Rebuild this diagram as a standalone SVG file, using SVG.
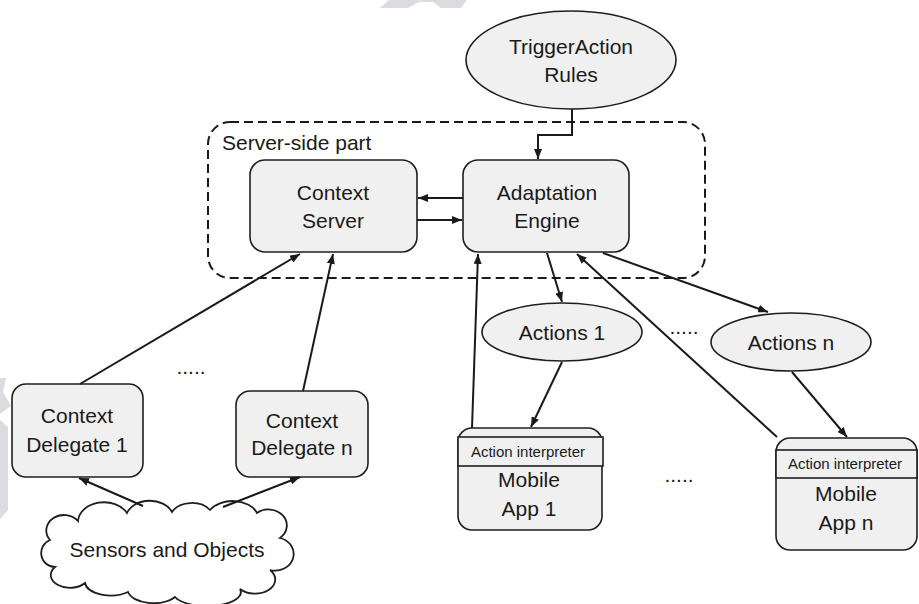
<svg xmlns="http://www.w3.org/2000/svg" width="919" height="604" viewBox="0 0 919 604">
  <style>
    .box { fill: #f0f0f0; stroke: #1e1e1e; stroke-width: 1.6; }
    .cloud { fill: #ffffff; stroke: #1e1e1e; stroke-width: 1.8; }
    .lbl { font-family: "Liberation Sans", Arial, sans-serif; font-size: 21px; fill: #1a1a1a; text-anchor: middle; }
    .small { font-size: 15px; }
    .edge { fill: none; stroke: #1a1a1a; stroke-width: 2; }
    .mark { fill: #dcdce0; }
  </style>
  <defs>
    <marker id="arrow" viewBox="0 0 10 8" refX="10" refY="4" markerWidth="10" markerHeight="8" markerUnits="userSpaceOnUse" orient="auto">
      <path d="M0,0 L10,4 L0,8 Z" fill="#1a1a1a"/>
    </marker>
  </defs>

  <rect width="919" height="604" fill="#ffffff"/>

  <!-- faint background marks -->
  <g id="marks">
    <polygon class="mark" points="380,8 389,0 467,0 461,8 441,8 433,2 419,2 408,8"/>
    <polygon class="mark" points="0,378 6,378 3,392 11,406 0,414"/>
    <polygon class="mark" points="0,420 8,427 8,510 0,519"/>
  </g>

  <!-- server-side container -->
  <g id="server-side">
    <rect x="208" y="122" width="497" height="156" rx="22" fill="none" stroke="#1a1a1a" stroke-width="2" stroke-dasharray="9 5"/>
    <text class="lbl" x="222" y="150" style="text-anchor:start">Server-side part</text>
  </g>

  <g id="trigger-rules">
    <ellipse class="box" cx="571" cy="60" rx="105" ry="49"/>
    <text class="lbl" x="571" y="54">TriggerAction</text>
    <text class="lbl" x="571" y="82">Rules</text>
  </g>

  <g id="context-server">
    <rect class="box" x="250" y="160" width="167" height="92" rx="15"/>
    <text class="lbl" x="333" y="200">Context</text>
    <text class="lbl" x="333" y="228">Server</text>
  </g>

  <g id="adaptation-engine">
    <rect class="box" x="463" y="160" width="166" height="92" rx="15"/>
    <text class="lbl" x="547" y="200">Adaptation</text>
    <text class="lbl" x="547" y="228">Engine</text>
  </g>

  <g id="context-delegate-1">
    <rect class="box" x="12" y="384" width="131" height="93" rx="14"/>
    <text class="lbl" x="77" y="423">Context</text>
    <text class="lbl" x="77" y="452">Delegate 1</text>
  </g>

  <g id="context-delegate-n">
    <rect class="box" x="236" y="391" width="132" height="86" rx="14"/>
    <text class="lbl" x="302" y="428">Context</text>
    <text class="lbl" x="302" y="455">Delegate n</text>
  </g>

  <g id="sensors-objects">
    <path class="cloud" d="M78,521 A26,20 0 0 1 127,513 A24,18 0 0 1 172,512 A22,16 0 0 1 210,510 A26,18 0 0 1 257,513 A16,14 0 0 1 280,538 A18,16 0 0 1 270,570 A20,14 0 0 1 240,589 A34,14 0 0 1 175,597 A26,14 0 0 1 128,592 A26,14 0 0 1 85,583 A18,12 0 0 1 55,567 A14,14 0 0 1 50,540 A16,14 0 0 1 78,521 Z"/>
    <text class="lbl" x="167" y="557">Sensors and Objects</text>
  </g>

  <g id="actions-1">
    <ellipse class="box" cx="562" cy="332" rx="80" ry="29"/>
    <text class="lbl" x="562" y="340">Actions 1</text>
  </g>

  <g id="actions-n">
    <ellipse class="box" cx="791" cy="342" rx="80" ry="29"/>
    <text class="lbl" x="791" y="350">Actions n</text>
  </g>

  <g id="mobile-app-1">
    <rect class="box" x="458" y="428" width="144" height="102" rx="14"/>
    <rect class="box" x="458" y="437" width="145" height="29"/>
    <text class="lbl small" x="528" y="457">Action interpreter</text>
    <text class="lbl" x="529" y="487">Mobile</text>
    <text class="lbl" x="529" y="516">App 1</text>
  </g>

  <g id="mobile-app-n">
    <rect class="box" x="776" y="438" width="141" height="112" rx="14"/>
    <rect class="box" x="776" y="450" width="141" height="28"/>
    <text class="lbl small" x="845" y="469">Action interpreter</text>
    <text class="lbl" x="846" y="501">Mobile</text>
    <text class="lbl" x="846" y="530">App n</text>
  </g>

  <!-- ellipsis marks -->
  <g id="ellipses">
    <text class="lbl" x="191" y="374">.....</text>
    <text class="lbl" x="684" y="334">.....</text>
    <text class="lbl" x="679" y="482">.....</text>
  </g>

  <g id="connectors">
    <path class="edge" marker-end="url(#arrow)" d="M80,384 L300,254"/>
    <path class="edge" marker-end="url(#arrow)" d="M303,391 L333,254"/>
    <path class="edge" marker-end="url(#arrow)" d="M463,198 L418,198"/>
    <path class="edge" marker-end="url(#arrow)" d="M417,220 L462,220"/>
    <path class="edge" marker-end="url(#arrow)" d="M572,109 V135 H538 V159"/>
    <path class="edge" marker-end="url(#arrow)" d="M472,428 L478,254"/>
    <path class="edge" marker-end="url(#arrow)" d="M777,437 L577,254"/>
    <path class="edge" marker-end="url(#arrow)" d="M547,253 L562,302"/>
    <path class="edge" marker-end="url(#arrow)" d="M603,253 L768,312"/>
    <path class="edge" marker-end="url(#arrow)" d="M562,362 L531,427"/>
    <path class="edge" marker-end="url(#arrow)" d="M792,372 L847,437"/>
    <path class="edge" marker-end="url(#arrow)" d="M143,506 L79,478"/>
    <path class="edge" marker-end="url(#arrow)" d="M223,507 L300,477"/>
  </g>
</svg>
